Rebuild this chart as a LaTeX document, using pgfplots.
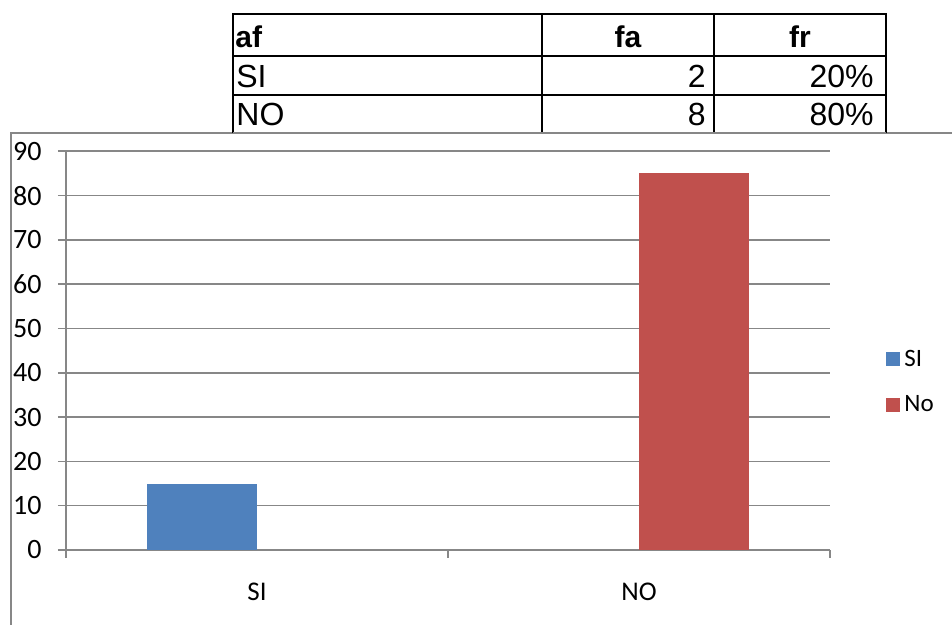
\documentclass[border=0pt]{standalone}
\usepackage{pgfplots}
\pgfplotsset{compat=1.18}
\usepackage{fontspec}
\setmainfont{Carlito}
\newfontfamily\arial{Liberation Sans}
\definecolor{siblue}{HTML}{4F81BD}
\definecolor{nored}{HTML}{C0504D}
\definecolor{framegray}{HTML}{878787}
\begin{document}
\begin{tikzpicture}
\useasboundingbox (0,0) rectangle (476pt,312.5pt);
\begin{scope}[x=0.5pt,y=-0.5pt,shift={(0pt,312.5pt)}]
  % chart frame
  \draw[framegray, line width=1pt] (11,626) -- (11,133) -- (953,133);
  % table
  \draw[black, line width=1.3pt] (233,133) -- (233,14) -- (886,14) -- (886,133);
  \draw[black, line width=1.3pt] (542,14) -- (542,133);
  \draw[black, line width=1.3pt] (714,14) -- (714,133);
  \draw[black, line width=1.3pt] (233,56) -- (886,56);
  \draw[black, line width=1.3pt] (233,95) -- (886,95);
  \draw[framegray, line width=1pt] (233,133) -- (886,133);
  \node[anchor=base west, inner sep=0pt] at (235,48) {\arial\bfseries\fontsize{15}{17}\selectfont af};
  \node[anchor=base, inner sep=0pt] at (628,48) {\arial\bfseries\fontsize{15}{17}\selectfont fa};
  \node[anchor=base, inner sep=0pt] at (800,48) {\arial\bfseries\fontsize{15}{17}\selectfont fr};
  \node[anchor=base west, inner sep=0pt] at (236,88) {\arial\fontsize{16}{18}\selectfont SI};
  \node[anchor=base west, inner sep=0pt] at (236,126) {\arial\fontsize{16}{18}\selectfont NO};
  \node[anchor=base east, inner sep=0pt] at (706,88) {\arial\fontsize{16}{18}\selectfont 2};
  \node[anchor=base east, inner sep=0pt] at (706,126) {\arial\fontsize{16}{18}\selectfont 8};
  \node[anchor=base east, inner sep=0pt] at (874,88) {\arial\fontsize{16}{18}\selectfont 20\%};
  \node[anchor=base east, inner sep=0pt] at (874,126) {\arial\fontsize{16}{18}\selectfont 80\%};
\end{scope}
\begin{axis}[
  at={(33pt,37.5pt)}, anchor=south west,
  scale only axis, width=382pt, height=199.35pt,
  xmin=0, xmax=2, ymin=0, ymax=90,
  axis x line=bottom, axis y line=left,
  axis line style={framegray, line width=0.8pt, -},
  x axis line style={-}, y axis line style={-},
  ytick={0,10,...,90},
  ymajorgrids, grid style={framegray, line width=0.8pt},
  tick align=outside,
  major tick length=4pt, minor tick length=4pt,
  tick style={framegray, line width=0.8pt},
  xtick={0.5,1.5}, xticklabels={SI,NO},
  major x tick style={draw=none},
  minor xtick={0,1,2},
  minor x tick style={framegray, line width=0.8pt},
  /pgf/number format/assume math mode=true,
  yticklabel style={font=\fontsize{14}{16}\selectfont, anchor=east, inner sep=0pt, xshift=-8pt},
  xticklabel style={font=\fontsize{13.5}{15}\selectfont, anchor=base, inner sep=0pt, yshift=-21.5pt},
  legend style={at={(1.0733,0.4214)}, anchor=west, draw=none, fill=none,
    font=\fontsize{12.5}{14}\selectfont, row sep=9pt, inner sep=0pt,
    cells={anchor=west}},
  legend image code/.code={\fill[#1] (0pt,-3.5pt) rectangle (7pt,3.5pt);},
]
\addplot[ybar, bar width=55pt, bar shift=-27.5pt, fill=siblue, draw=none] coordinates {(0.5,15)};
\addplot[ybar, bar width=55pt, bar shift=27.5pt, fill=nored, draw=none] coordinates {(1.5,85)};
\legend{SI,No}
\end{axis}
\end{tikzpicture}
\end{document}
